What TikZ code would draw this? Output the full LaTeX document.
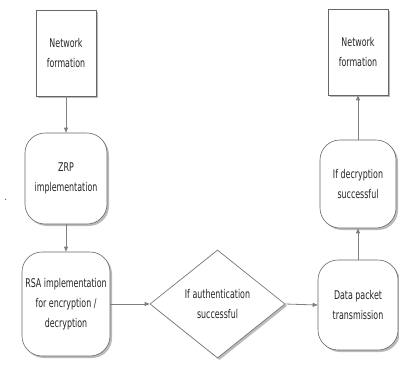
\documentclass[tikz,border=0pt]{standalone}
\usepackage{fontspec}
\setmainfont{DejaVu Sans}[FakeStretch=0.66]
\usetikzlibrary{shapes.geometric,shadows,arrows.meta}
\begin{document}
\begin{tikzpicture}[x=1pt,y=-1pt,
 base/.style={draw=gray!80!black, line width=0.6pt, fill=white, inner sep=0pt, align=center,
   font=\fontsize{12}{20}\selectfont, text=black!85,
   drop shadow={shadow xshift=2pt,shadow yshift=-2pt,fill=black!45,opacity=0.6}},
 boxnode/.style={base, rectangle},
 roundnode/.style={base, rectangle, rounded corners=20pt},
 decision/.style={base, diamond},
 conn/.style={draw=gray, line width=0.8pt, -{Triangle[width=4pt,length=5pt]}}]
\useasboundingbox (0,0) rectangle (399,365);
\node[boxnode, minimum width=60pt, minimum height=86pt] (n1) at (66,53) {Network\\formation};
\node[roundnode, minimum width=82pt, minimum height=91pt] (zrp) at (66,178.5) {ZRP\\implementation};
\node[roundnode, minimum width=88pt, minimum height=104pt] (rsa) at (66,304) {RSA implementation\\for encryption /\\decryption};
\node[decision, minimum width=135pt, minimum height=108pt] (dia) at (217.5,304) {If authentication\\successful};
\node[roundnode, minimum width=80pt, minimum height=90pt] (dp) at (358,305) {Data packet\\transmission};
\node[roundnode, minimum width=76pt, minimum height=88pt] (dec) at (358,184) {If decryption\\successful};
\node[boxnode, minimum width=60pt, minimum height=86pt] (n2) at (358,52) {Network\\formation};
\node[font=\fontsize{10}{10}\selectfont, inner sep=0pt] (dot) at (6,200) {.};
\draw[conn] (n1.south) -- (zrp.north);
\draw[conn] (zrp.south) -- (rsa.north);
\draw[conn] (rsa.east) -- (dia.west);
\draw[conn] (dia.east) -- (dp.west);
\draw[conn] (dp.north) -- (dec.south);
\draw[conn] (dec.north) -- (n2.south);
\end{tikzpicture}
\end{document}
